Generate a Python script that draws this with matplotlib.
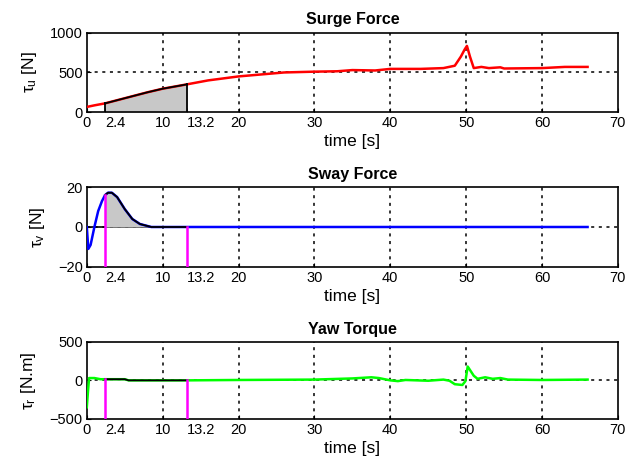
import numpy as np
import matplotlib
matplotlib.use("Agg")
import matplotlib.pyplot as plt

plt.rcParams['font.family'] = ['Liberation Sans', 'DejaVu Sans']
plt.rcParams['mathtext.fontset'] = 'custom'
plt.rcParams['mathtext.rm'] = 'Liberation Sans'
plt.rcParams['mathtext.it'] = 'Liberation Sans'

# window limits
t_start = 2.4
t_end = 13.2

# surge force
t_u = [0, 1, 2.4, 5, 8, 10, 13.2, 16, 20, 23, 26, 30, 33, 35, 38, 40, 44, 47,
       48.5, 49.3, 49.8, 50.1, 50.5, 51, 52, 53, 54.5, 55, 60, 63, 66]
u = [65, 85, 110, 175, 250, 295, 350, 400, 450, 475, 500, 510, 515, 530, 525,
     545, 545, 555, 585, 700, 790, 835, 700, 555, 570, 555, 565, 550, 555, 570, 570]

# sway force
t_v = [0, 0.2, 0.5, 1, 1.5, 2, 2.4, 2.8, 3.3, 4, 5, 6, 7, 8, 8.5, 10, 13.2, 20, 66]
v = [0, -11, -9, 0, 8, 13, 16, 17.2, 17.2, 15, 9, 4, 1.5, 0.5, 0, 0, 0, 0, 0]

# yaw torque
t_r = [0, 0.15, 0.3, 1, 1.8, 2.4, 5, 5.5, 10, 13.2, 20, 30, 35, 37.5, 38.5, 40,
       41, 42, 45, 47, 47.8, 48.5, 49.5, 49.9, 50.2, 51, 51.5, 52.5, 53.5, 54.5,
       55.5, 60, 66]
r = [-350, -150, 30, 30, 15, 15, 15, 0, 0, 0, 5, 10, 25, 40, 30, 0, -10, 5, -5,
     10, -5, -50, -60, -10, 180, 60, 20, 40, 20, 30, 10, 5, 10]

panels = [
    ("Surge Force", r'$\tau_u$ [N]', t_u, u, 'red', (0, 1000), [0, 500, 1000]),
    ("Sway Force", r'$\tau_v$ [N]', t_v, v, 'blue', (-20, 20), [-20, 0, 20]),
    ("Yaw Torque", r'$\tau_r$ [N.m]', t_r, r, '#00ff00', (-500, 500), [-500, 0, 500]),
]
boxes = [[0.135, 0.761, 0.826, 0.169],
         [0.135, 0.431, 0.826, 0.170],
         [0.135, 0.107, 0.826, 0.164]]

fig = plt.figure(figsize=(6.43, 4.69), dpi=100)
for i, (title, ylab, t, y, col, ylim, yt) in enumerate(panels):
    ax = fig.add_axes(boxes[i])
    t = np.array(t)
    y = np.array(y)
    ax.set_xlim(0, 70)
    ax.set_ylim(*ylim)
    for gx in range(10, 70, 10):
        ax.axvline(gx, color='k', ls=(0, (2, 3)), lw=1.1, zorder=1)
    for gy in yt[1:-1]:
        ax.axhline(gy, color='k', ls=(0, (2, 3)), lw=1.1, zorder=1)
    if i == 1:
        ax.plot([0, t_end], [0, 0], color='k', lw=1.2, zorder=2)

    m = (t >= t_start) & (t <= t_end)
    ax.fill_between(t[m], y[m], 0, color='#c8c8c8', zorder=2, lw=0)
    ax.plot(t, y, color=col, lw=1.8, zorder=3)
    ax.plot(t[m], y[m], color='k', lw=1.3, zorder=4)
    if i == 0:
        ax.plot([t_start, t_start], [0, y[m][0]], color='k', lw=1.3, zorder=4)
        ax.plot([t_end, t_end], [0, y[m][-1]], color='k', lw=1.3, zorder=4)
    else:
        ax.plot([t_start, t_start], [ylim[0], y[m][0]], color='#ff00ff', lw=1.8, zorder=5)
        ax.plot([t_end, t_end], [ylim[0], y[m][-1]], color='#ff00ff', lw=1.8, zorder=5)

    ax.set_xticks(range(0, 80, 10))
    ax.set_xticklabels(['0', '10', '20', '30', '40', '50', '60', '70'])
    ax.set_xticks([t_start, t_end], minor=True)
    ax.set_xticklabels(['2.4', '13.2'], minor=True)
    for lb in ax.get_xticklabels(minor=True):
        lb.set_horizontalalignment('left')
    ax.set_yticks(yt)
    ax.tick_params(which='both', direction='in', length=3, labelsize=10.5, pad=3)
    for s in ax.spines.values():
        s.set_linewidth(1.2)
    ax.set_title(title, fontsize=11.5, fontweight='bold', pad=6)
    ax.set_xlabel('time [s]', fontsize=12.5, labelpad=3)
    ax.set_ylabel(ylab, fontsize=12.5, labelpad=8)

fig.savefig('out.png', dpi=100)
